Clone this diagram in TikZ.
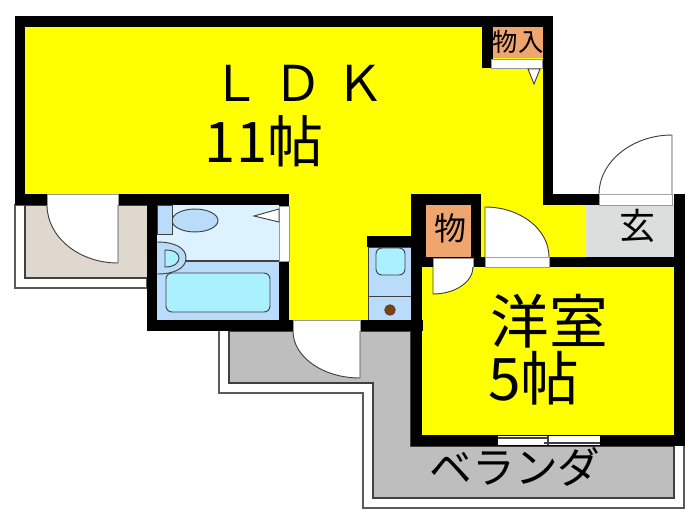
\documentclass[tikz,border=0pt]{standalone}
\usepackage{fontspec}
\setmainfont{Noto Sans CJK JP}
\usepackage{tikz}

\definecolor{roomyellow}{RGB}{255,255,0}
\definecolor{bathlight}{HTML}{DDF2FF}
\definecolor{fixblue}{HTML}{B8DCFA}
\definecolor{tubcyan}{HTML}{AAF0FF}
\definecolor{closet}{HTML}{EFA56E}
\definecolor{porch}{HTML}{DFD8CF}
\definecolor{verandagray}{HTML}{BEBEBE}
\definecolor{hallgray}{HTML}{DCDEDE}
\definecolor{edgegray}{HTML}{5A5A5A}
\definecolor{drain}{RGB}{130,65,10}

\tikzset{
  wall/.style={fill=black},
  door/.style={fill=white, draw=black!75, line width=0.7pt},
  strip/.style={fill=white, draw=black!40, line width=0.5pt},
  fixture/.style={fill=fixblue, draw=black!75, line width=0.7pt},
  basin/.style={fill=tubcyan, draw=black!75, line width=0.7pt, rounded corners=4.5pt},
  outline/.style={fill=white, draw=edgegray, line width=0.9pt},
  floorline/.style={draw=black!75, line width=0.8pt},
  big/.style={font=\fontsize{44}{44}\selectfont, inner sep=0pt},
  small/.style={font=\fontsize{19}{19}\selectfont, inner sep=0pt}
}

\begin{document}
\begin{tikzpicture}[x=0.75pt, y=-0.75pt]
\useasboundingbox (0,0) rectangle (700,525);

% outside
\draw [outline] (15,205) rectangle (147,288);
\draw [floorline, fill=porch] (147,278) -- (25,278) -- (25,205) -- (147,205);
\draw [outline] (219,331) -- (219,393) -- (363,393) -- (363,508) -- (684,508) -- (684,446);
\draw [floorline, fill=verandagray] (229,331) -- (229,383) -- (373,383) -- (373,498) -- (674,498) -- (674,446) -- (411,446) -- (411,331) -- cycle;

% floors
\fill [roomyellow] (25,27) -- (543,27) -- (543,205) -- (586,205) -- (586,257) -- (411,257) -- (411,320) -- (289,320) -- (289,194) -- (25,194) -- cycle;
\fill [roomyellow] (422,267) rectangle (674,435);
\fill [bathlight] (157,205) rectangle (279,261);
\fill [fixblue] (157,261) rectangle (279,320);
\fill [closet] (426,205) rectangle (471,257);
\fill [closet] (493,27) rectangle (543,58);
\fill [hallgray] (586,205) rectangle (674,257);
\draw [fixture] (368,247) rectangle (411,296);
\draw [fixture] (368,296) rectangle (411,320);

% walls
\fill [wall] (15,16) rectangle (553,27);
\fill [wall] (15,16) rectangle (25,205);
\fill [wall] (15,194) rectangle (289,205);
\fill [wall] (147,194) rectangle (157,331);
\fill [wall] (279,194) rectangle (289,331);
\fill [wall] (147,320) rectangle (423,331);
\fill [wall] (367,236) rectangle (423,247);
\fill [wall] (411,194) rectangle (422,446);
\fill [wall] (411,194) rectangle (481,205);
\fill [wall] (411,205) rectangle (426,267);
\fill [wall] (471,194) rectangle (481,267);
\fill [wall] (411,257) rectangle (685,267);
\fill [wall] (411,435) rectangle (685,446);
\fill [wall] (674,194) rectangle (685,446);
\fill [wall] (482,16) rectangle (493,68);
\fill [wall] (543,16) rectangle (553,205);
\fill [wall] (543,194) rectangle (600,205);

% doors
\draw [strip] (47,194) rectangle (118,205);
\draw [door] (47,205) .. controls (47,237) and (79,263) .. (118,263) -- (118,205);
\draw [strip] (279,206) rectangle (289,261);
\draw [door] (254,216) -- (279,209) -- (279,222) -- cycle;
\draw [strip] (293,320) rectangle (360,331);
\draw [door] (293,331) .. controls (293,357) and (323,378) .. (360,378) -- (360,331);
\draw [strip] (433,258) rectangle (473,267);
\draw [door] (473,267) .. controls (473,282) and (455,294) .. (433,294) -- (433,267);
\draw [strip] (485,257) rectangle (549,267);
\draw [door] (549,257) .. controls (549,229) and (520,207) .. (485,207) -- (485,257);
\draw [strip] (599,194) rectangle (672,205);
\draw [door] (599,194) .. controls (599,162) and (632,135) .. (672,135) -- (672,194);
\draw [strip] (491,59) rectangle (542,68);
\draw [door] (528,69) -- (540,69) -- (534,84) -- cycle;

% window
\fill [white] (498,436) rectangle (600,445);
\draw [floorline] (498,438) -- (548,438);
\draw [floorline] (544,443) -- (600,443);
\draw [floorline] (548,436) -- (548,445);

% bath
\draw [floorline] (186,261) -- (279,261);
\draw [fixture] (195,220.5) ellipse [x radius=17.25pt, y radius=8.6pt];
\draw [fixture] (157,205) rectangle (172,234);
\draw [fixture] (157,242) .. controls (175,242) and (186,248) .. (186,258) .. controls (186,268) and (175,274) .. (157,274);
\draw [fixture, fill=tubcyan] (165,250) .. controls (174,250) and (179,253) .. (179,258) .. controls (179,263) and (174,267) .. (165,267) -- cycle;
\draw [basin] (166,273) rectangle (270,312);

% kitchen
\draw [basin] (376,248) rectangle (405,275);
\draw [fill=drain, draw=black!75, line width=0.5pt] (390,310) circle (4pt);

% labels
\node [font=\fontsize{37}{37}\selectfont, inner sep=0pt] (ldk) at (298,83) {Ｌ\hspace{0.25em}Ｄ\hspace{0.25em}Ｋ};
\node [font=\fontsize{42}{42}\selectfont, inner sep=0pt] (ldksize) at (264,141) {11帖};
\node [big] (west) at (549,321) {洋室};
\node [big] (westsize) at (534,378) {5帖};
\node [small] (storein) at (518,42) {物入};
\node [font=\fontsize{24}{24}\selectfont, inner sep=0pt] (store) at (450,228) {物};
\node [font=\fontsize{27}{27}\selectfont, inner sep=0pt] (hall) at (637,226) {玄};
\node [font=\fontsize{32}{32}\selectfont, inner sep=0pt] (veranda) at (515,467) {ベランダ};
\end{tikzpicture}
\end{document}
